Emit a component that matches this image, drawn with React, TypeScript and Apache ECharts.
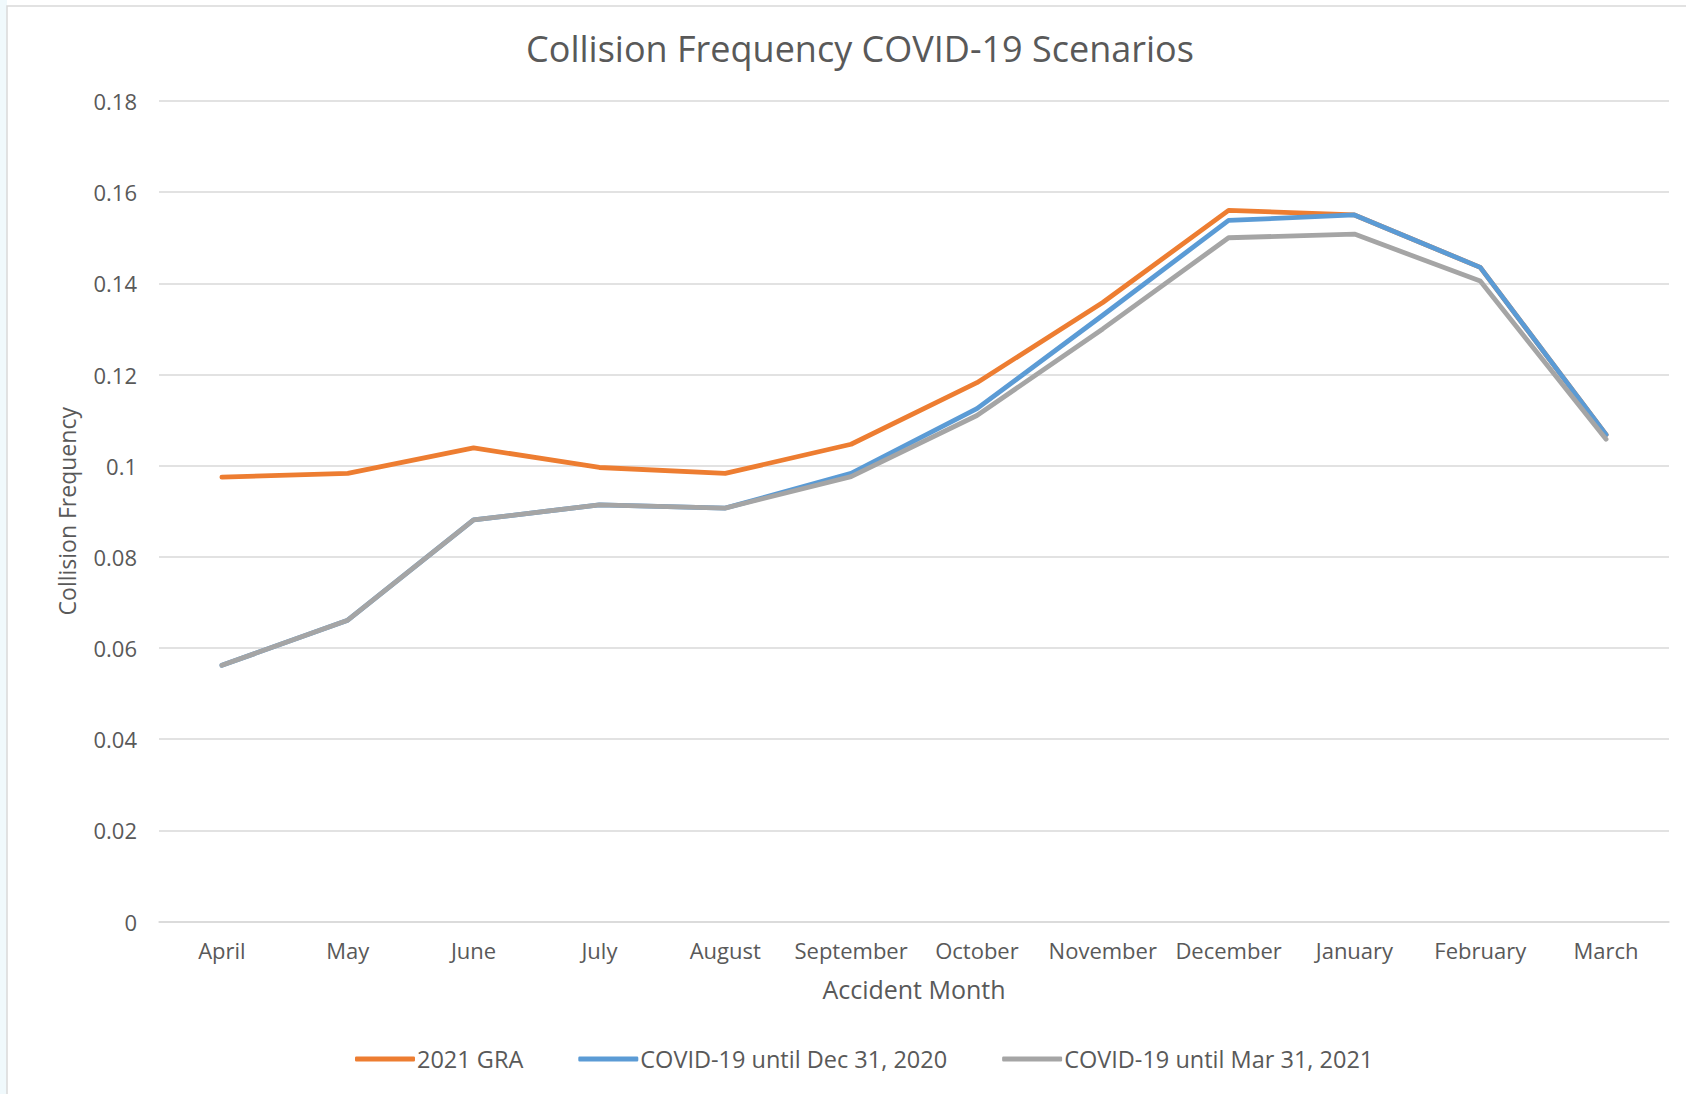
import React, { useEffect, useRef } from "react";
import * as echarts from "echarts";

const months = ["April", "May", "June", "July", "August", "September", "October", "November", "December", "January", "February", "March"];
const seriesNames = ["2021 GRA", "COVID-19 until Dec 31, 2020", "COVID-19 until Mar 31, 2021"];
const gra2021 = [0.0975, 0.0983, 0.1039, 0.0996, 0.0983, 0.1047, 0.1182, 0.1358, 0.1560, 0.1550, 0.1435, 0.1068];
const covidDec2020 = [0.0562, 0.0661, 0.0881, 0.0914, 0.0907, 0.0983, 0.1125, 0.1330, 0.1538, 0.1550, 0.1435, 0.1068];
const covidMar2021 = [0.0562, 0.0661, 0.0881, 0.0914, 0.0907, 0.0976, 0.1110, 0.1300, 0.1500, 0.1508, 0.1405, 0.1058];
const colors = ["#ED7D31", "#5B9BD5", "#A5A5A5"];

const FONT = "'Open Sans', 'Noto Sans', sans-serif";
const TEXT = "#595959";

export default function App() {
  const ref = useRef<HTMLDivElement>(null);
  useEffect(() => {
    document.body.style.margin = "0";
    const chart = echarts.init(ref.current!, undefined, { renderer: "svg" });
    const values = [gra2021, covidDec2020, covidMar2021];
    chart.setOption({
      animation: false,
      backgroundColor: "#ffffff",
      textStyle: { fontFamily: FONT },
      title: {
        text: "Collision Frequency COVID-19 Scenarios",
        left: 855,
        textAlign: "center",
        top: 25,
        textStyle: { fontFamily: FONT, fontSize: 36, fontWeight: "normal", color: TEXT },
      },
      graphic: [
        { type: "rect", shape: { x: 0, y: 0, width: 7, height: 1094 }, style: { fill: "#F0F9FC" }, silent: true },
        { type: "rect", shape: { x: 7, y: 6, width: 1700, height: 1100 }, style: { fill: "none", stroke: "#D9D9D9", lineWidth: 1.5 }, silent: true },
      ],
      legend: {
        left: 350,
        top: 1042,
        itemWidth: 60,
        itemHeight: 5,
        itemGap: 55,
        icon: "roundRect",
        textStyle: { fontFamily: FONT, fontSize: 23.5, color: TEXT, padding: [0, 0, 0, -3] },
        data: seriesNames,
      },
      grid: { left: 159, right: 17, top: 101, bottom: 172.5, containLabel: false },
      xAxis: {
        type: "category",
        data: months,
        boundaryGap: true,
        name: "Accident Month",
        nameLocation: "middle",
        nameGap: 55,
        nameTextStyle: { fontFamily: FONT, fontSize: 25, color: TEXT },
        axisLine: { show: true, lineStyle: { color: "#D9D9D9", width: 1.5 } },
        axisTick: { show: false },
        axisLabel: { fontFamily: FONT, fontSize: 22, color: TEXT, margin: 17, interval: 0 },
      },
      yAxis: {
        type: "value",
        min: 0,
        max: 0.18,
        interval: 0.02,
        name: "Collision Frequency",
        nameLocation: "middle",
        nameGap: 81,
        nameTextStyle: { fontFamily: FONT, fontSize: 23, color: TEXT },
        axisLine: { show: false },
        axisTick: { show: false },
        axisLabel: {
          fontFamily: FONT,
          fontSize: 22,
          color: TEXT,
          margin: 22,
          formatter: (v: number) => String(Math.round(v * 100) / 100),
        },
        splitLine: { show: true, lineStyle: { color: "#D9D9D9", width: 1.5 } },
      },
      series: seriesNames.map((name, i) => ({
        name,
        type: "line",
        data: values[i],
        showSymbol: false,
        symbol: "none",
        color: colors[i],
        lineStyle: { color: colors[i], width: 4.8, cap: "round", join: "round" },
        z: 2 + i,
      })),
    });
    return () => chart.dispose();
  }, []);
  return <div ref={ref} style={{ width: 1686, height: 1094 }} />;
}
